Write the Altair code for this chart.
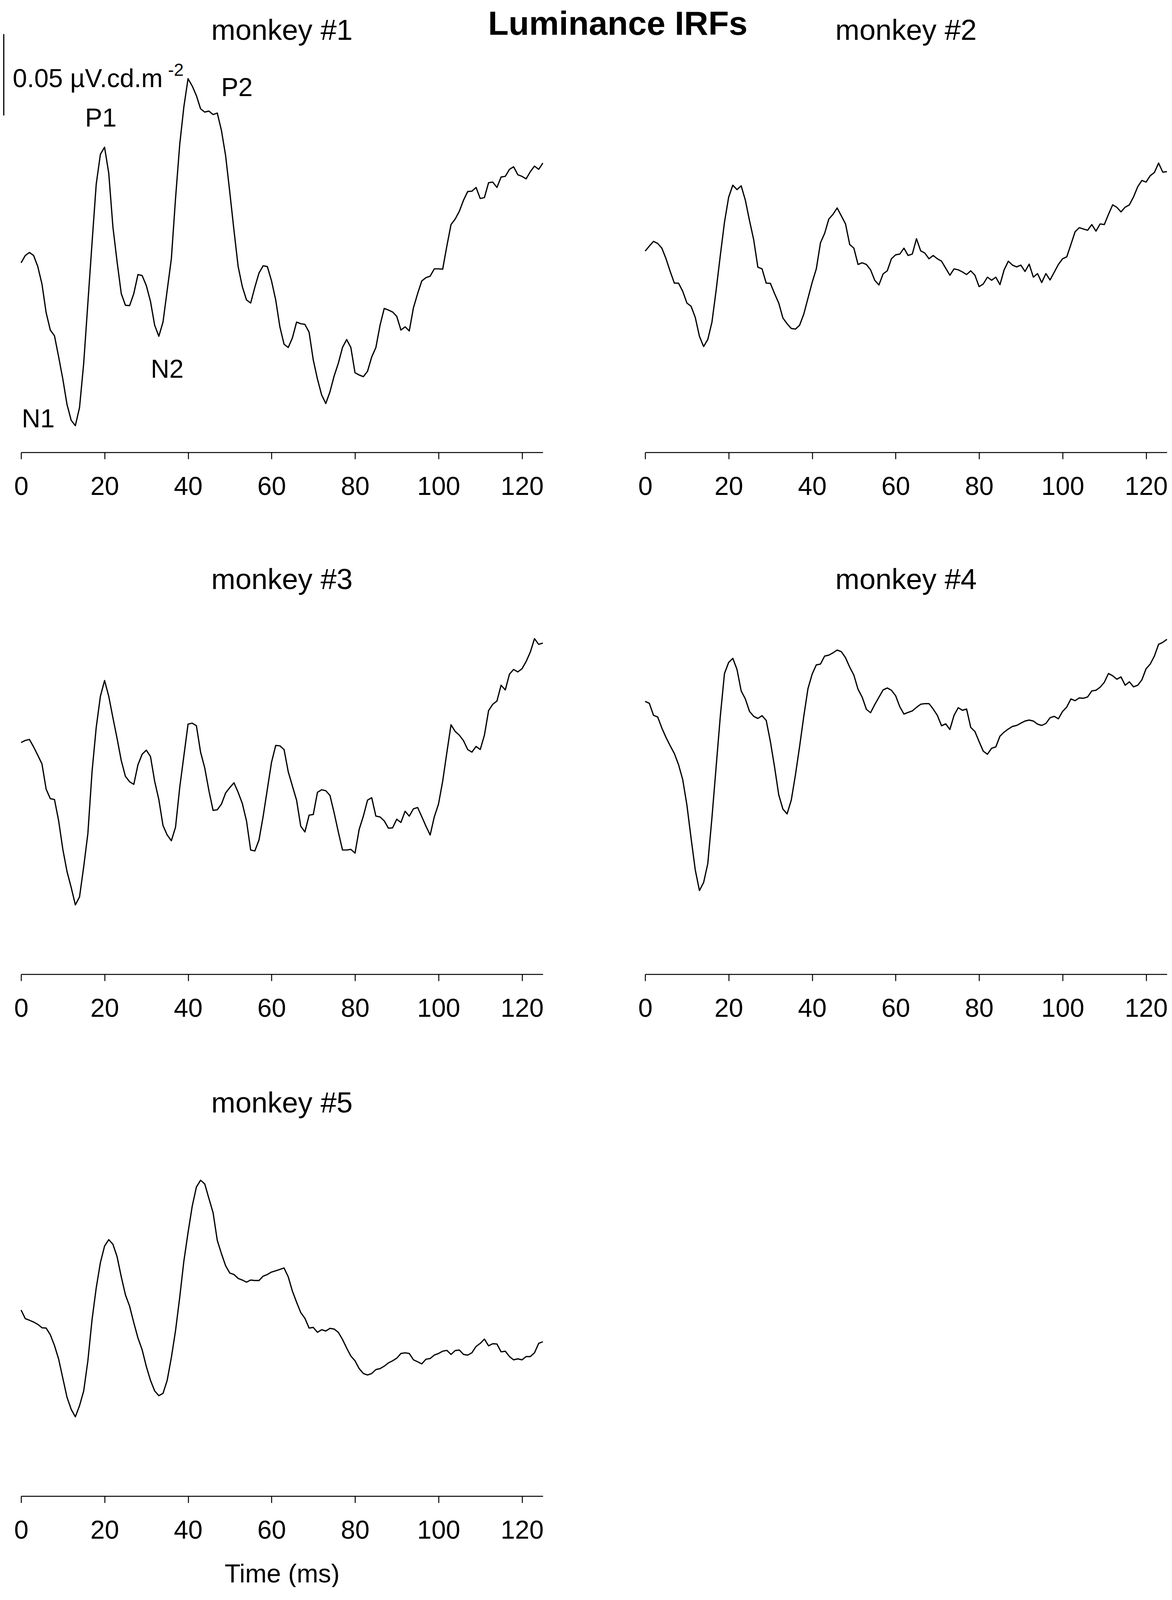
import altair as alt
import pandas as pd

FONT = "Liberation Sans"

# ---- data (amplitude in nV.cd^-1.m^2, i.e. 50 = 0.05 uV.cd.m-2) ----
TIME_MS = list(range(0, 126))

MONKEY_NAMES = ["monkey #1", "monkey #2", "monkey #3", "monkey #4", "monkey #5"]

M1 = [0, 4.5, 6.4, 4.5, -2.3, -13.0, -30.6, -41.3, -44.8, -57.8,
      -71.4, -87.0, -96.7, -100.0, -88.9, -61.7, -24.7, 12.3, 48.3, 66.7,
      71.0, 55.1, 22.0, 0.6, -18.9, -26.1, -26.3, -18.9, -7.2, -7.8,
      -14.0, -23.7, -38.3, -45.1, -36.4, -16.9, 2.5, 39.5, 72.6, 95.9,
      113.1, 108.6, 102.7, 94.6, 92.6, 93.2, 91.1, 92.0, 81.3, 65.8,
      43.4, 20.0, -2.3, -14.6, -22.8, -24.7, -15.0, -6.2, -1.8, -2.3,
      -11.1, -22.8, -39.3, -50.0, -52.0, -46.1, -36.4, -37.4, -37.8, -42.6,
      -59.7, -71.4, -81.1, -86.4, -79.2, -69.5, -61.7, -52.0, -47.1, -52.0,
      -67.5, -68.9, -69.9, -66.6, -57.8, -52.0, -38.3, -28.0, -29.0, -30.2,
      -32.9, -41.3, -39.3, -41.8, -27.6, -18.9, -11.1, -9.1, -8.2, -3.7,
      -3.7, -3.9, 10.3, 23.5, 26.9, 31.7, 38.5, 43.8, 44.0, 46.3,
      39.5, 40.1, 49.2, 49.6, 46.3, 52.7, 53.1, 57.4, 59.0, 54.1,
      53.1, 51.6, 56.0, 59.4, 57.4, 61.3]

M2 = [7.2, 10.3, 13.2, 11.9, 9.0, 2.5, -5.3, -12.5, -12.5, -17.5,
      -24.7, -26.7, -33.5, -45.1, -51.4, -47.1, -36.4, -16.9, 4.5, 24.9,
      40.3, 47.7, 45.0, 47.3, 38.5, 25.9, 14.2, -2.7, -3.7, -12.5,
      -12.6, -18.9, -24.7, -33.9, -37.4, -40.3, -40.7, -38.3, -31.5, -21.8,
      -12.1, -3.7, 12.3, 18.1, 26.9, 29.8, 33.7, 28.8, 23.9, 11.3,
      9.0, -1.0, 0.0, -1.0, -4.3, -10.7, -13.6, -6.8, -4.9, 2.5,
      4.9, 5.4, 9.0, 4.5, 5.4, 14.8, 7.4, 6.0, 2.5, 4.5,
      2.5, 1.0, -3.3, -7.6, -3.7, -4.3, -5.6, -7.2, -4.9, -7.6,
      -14.6, -13.0, -8.8, -10.7, -8.8, -13.4, -4.3, 1.0, -1.4, -2.5,
      -1.4, -5.3, -0.8, -8.8, -6.6, -12.1, -6.6, -10.5, -5.8, -1.0,
      2.5, 3.7, 11.3, 19.1, 21.6, 20.8, 20.0, 23.5, 19.5, 23.9,
      23.5, 29.8, 35.6, 34.1, 31.3, 34.2, 35.6, 40.5, 46.7, 50.6,
      49.6, 53.5, 55.5, 61.3, 55.7, 56.0]

M3 = [25.9, 27.2, 27.8, 23.2, 18.1, 12.8, -2.7, -8.6, -9.1, -22.2,
      -39.7, -53.3, -63.1, -73.8, -68.9, -50.4, -30.0, 8.0, 35.2, 54.3,
      64.0, 54.3, 41.1, 28.4, 14.8, 5.1, 1.8, 0.2, 12.3, 18.7,
      21.2, 17.3, 2.1, -9.1, -25.1, -30.9, -34.4, -26.1, -1.8, 17.7,
      37.2, 37.8, 36.2, 20.0, 10.3, -3.7, -15.8, -15.4, -11.9, -5.1,
      -1.8, 1.2, -4.7, -11.5, -22.2, -40.1, -40.7, -33.9, -19.3, -2.7,
      13.8, 24.1, 23.9, 21.6, 8.0, -0.8, -9.5, -25.5, -29.0, -18.7,
      -18.3, -4.7, -3.1, -3.7, -6.6, -17.3, -29.0, -40.1, -40.1, -39.7,
      -42.0, -27.4, -19.3, -9.5, -8.0, -19.3, -19.8, -22.2, -26.7, -26.5,
      -21.2, -23.2, -16.3, -19.3, -14.8, -14.0, -19.7, -25.5, -30.9, -19.7,
      -11.9, 2.1, 19.7, 36.8, 32.7, 30.4, 27.0, 21.6, 20.0, 23.5,
      21.6, 30.4, 45.5, 49.4, 51.4, 61.1, 58.2, 67.9, 70.8, 69.3,
      71.2, 75.7, 81.5, 89.7, 86.2, 87.0]

M4 = [51.2, 50.0, 42.6, 41.6, 34.8, 29.0, 23.9, 19.1, 12.3, 3.1,
      -12.5, -32.9, -52.3, -65.0, -60.1, -48.5, -20.2, 10.9, 42.0, 68.3,
      75.1, 77.6, 70.8, 57.6, 52.7, 45.0, 42.0, 40.7, 42.4, 39.5,
      26.5, 10.9, -6.2, -15.0, -17.9, -9.5, 6.0, 23.5, 42.0, 59.0,
      67.9, 73.6, 74.1, 79.0, 79.6, 81.0, 82.7, 81.7, 78.0, 72.2,
      67.3, 58.6, 53.7, 46.3, 44.2, 49.2, 53.7, 58.2, 59.4, 58.0,
      54.7, 47.9, 43.4, 44.4, 45.3, 47.5, 49.4, 49.8, 49.8, 46.5,
      42.6, 36.2, 37.4, 33.9, 42.6, 47.3, 45.7, 46.5, 35.2, 32.7,
      26.5, 20.6, 18.7, 22.4, 23.2, 29.8, 32.3, 34.2, 35.8, 36.4,
      37.8, 39.1, 39.7, 39.1, 37.2, 36.4, 37.6, 41.1, 42.0, 40.5,
      45.0, 47.7, 52.7, 51.6, 53.3, 53.1, 53.9, 57.6, 58.0, 59.9,
      62.9, 68.3, 66.9, 64.8, 66.2, 61.1, 63.2, 60.1, 61.1, 64.4,
      71.2, 74.1, 79.0, 86.2, 87.4, 89.3]

M5 = [-2.1, -7.4, -8.4, -9.5, -10.9, -13.0, -13.2, -17.3, -23.9, -32.3,
      -44.0, -55.7, -63.1, -67.7, -60.9, -51.8, -33.3, -8.0, 11.5, 27.0,
      37.2, 41.1, 38.3, 30.6, 18.3, 7.2, 0.2, -9.9, -19.3, -26.5,
      -36.8, -45.3, -51.8, -54.7, -53.3, -45.3, -31.3, -14.8, 5.6, 28.0,
      45.5, 61.7, 73.4, 77.6, 75.3, 66.4, 57.6, 40.7, 32.5, 25.1,
      20.6, 19.7, 17.3, 16.3, 15.0, 16.3, 16.0, 16.0, 18.7, 19.7,
      21.2, 22.0, 22.8, 23.7, 18.3, 9.5, 2.7, -3.7, -7.2, -13.2,
      -12.8, -15.8, -14.2, -15.0, -13.4, -13.8, -15.8, -20.2, -25.5, -30.4,
      -33.3, -38.1, -41.1, -42.0, -41.1, -38.7, -38.1, -36.6, -34.6, -33.3,
      -31.7, -28.8, -28.4, -28.8, -32.7, -33.9, -35.2, -32.3, -31.9, -29.8,
      -28.8, -27.4, -26.9, -29.4, -27.0, -26.7, -29.4, -29.8, -28.4, -24.5,
      -22.6, -20.0, -24.1, -22.8, -23.0, -27.8, -27.4, -30.7, -32.7, -32.1,
      -32.7, -30.7, -30.7, -28.4, -22.6, -21.6]

X_TICKS = [0, 20, 40, 60, 80, 100, 120]
X_DOMAIN = [0, 125]
Y_DOMAIN = [-116.4, 142.0]

# component labels of monkey #1
PEAK_LABELS = ["N1", "P1", "N2", "P2"]
PEAK_T = [4.1, 19.1, 35.0, 51.7]
PEAK_V = [-101.1, 83.6, -70.6, 102.3]

# amplitude scale bar (50 = 0.05 uV.cd.m-2)
SCALE_T = [-4.15]
SCALE_LO = [90.5]
SCALE_HI = [140.5]
SCALE_TEXT = ["0.05 \u00b5V.cd.m"]
SCALE_TEXT_T = [-2.0]
SCALE_TEXT_V = [108.0]
SCALE_EXP = ["-2"]
SCALE_EXP_T = [35.2]
SCALE_EXP_V = [114.9]

W, H = 1336, 1077

xs = alt.Scale(domain=X_DOMAIN, nice=False, zero=False)
ys = alt.Scale(domain=Y_DOMAIN, nice=False, zero=False)

LABEL_FS = 66
TITLE_FS = 74


def x_axis(title):
    kw = dict(values=X_TICKS, tickSize=17, tickWidth=2.5, tickColor="black",
              domainWidth=2.5, domainColor="black", grid=False,
              labelFont=FONT, labelFontSize=LABEL_FS, labelColor="black",
              labelPadding=91, labelBaseline="alphabetic",
              labelFlush=False, labelOverlap=False, format="d")
    if title:
        kw.update(title=title, titleFont=FONT, titleFontSize=LABEL_FS,
                  titleFontWeight="normal", titleColor="black",
                  titleBaseline="alphabetic", titleY=220)
    else:
        kw.update(title=None)
    return alt.Axis(**kw)


def panel(values, name, title_offset, axis_title=None, extras=()):
    ax = x_axis(axis_title)
    X = alt.X("t:Q", scale=xs, axis=ax)
    Y = alt.Y("v:Q", scale=ys, axis=None)
    df = pd.DataFrame({"t": TIME_MS, "v": values})
    line = alt.Chart(df).mark_line(color="black", strokeWidth=3.2,
                                   strokeJoin="round").encode(x=X, y=Y)
    layers = [line] + [f(X, Y) for f in extras]
    return alt.layer(*layers).properties(
        width=W, height=H,
        title=alt.TitleParams(name, font=FONT, fontSize=TITLE_FS, fontWeight="normal",
                              color="black", anchor="middle", frame="group",
                              baseline="alphabetic", offset=title_offset))


def peak_labels(X, Y):
    df = pd.DataFrame({"t": PEAK_T, "v": PEAK_V, "lab": PEAK_LABELS})
    return alt.Chart(df).mark_text(font=FONT, fontSize=LABEL_FS, color="black",
                                   align="center", baseline="alphabetic").encode(
        x=X, y=Y, text="lab:N")


def scale_bar(X, Y):
    df = pd.DataFrame({"t": SCALE_T, "v": SCALE_LO, "hi": SCALE_HI})
    return alt.Chart(df).mark_rule(color="black", strokeWidth=3).encode(
        x=X, y=Y, y2="hi:Q")


def scale_text(X, Y):
    df = pd.DataFrame({"t": SCALE_TEXT_T, "v": SCALE_TEXT_V, "lab": SCALE_TEXT})
    return alt.Chart(df).mark_text(font=FONT, fontSize=LABEL_FS, color="black",
                                   align="left", baseline="alphabetic").encode(
        x=X, y=Y, text="lab:N")


def scale_exp(X, Y):
    df = pd.DataFrame({"t": SCALE_EXP_T, "v": SCALE_EXP_V, "lab": SCALE_EXP})
    return alt.Chart(df).mark_text(font=FONT, fontSize=45, color="black",
                                   align="left", baseline="alphabetic").encode(
        x=X, y=Y, text="lab:N")


p1 = panel(M1, MONKEY_NAMES[0], -95, extras=(peak_labels, scale_bar, scale_text, scale_exp))
p2 = panel(M2, MONKEY_NAMES[1], -95)
p3 = panel(M3, MONKEY_NAMES[2], -165)
p4 = panel(M4, MONKEY_NAMES[3], -165)
p5 = panel(M5, MONKEY_NAMES[4], -169, axis_title="Time (ms)")

chart = alt.concat(p1, p2, p3, p4, p5, columns=2,
                   spacing={"row": 259, "column": 262}, bounds="flush").properties(
    title=alt.TitleParams("Luminance IRFs", font=FONT, fontSize=86,
                          fontWeight="bold", color="black", anchor="middle",
                          frame="bounds", baseline="alphabetic", offset=-132, dx=83),
    padding={"top": 12, "bottom": 0, "left": 0, "right": 0},
    background="white",
).configure(font=FONT).configure_view(strokeWidth=0, stroke="transparent")

chart.save("out.html", embed_options={"renderer": "svg", "actions": False})
